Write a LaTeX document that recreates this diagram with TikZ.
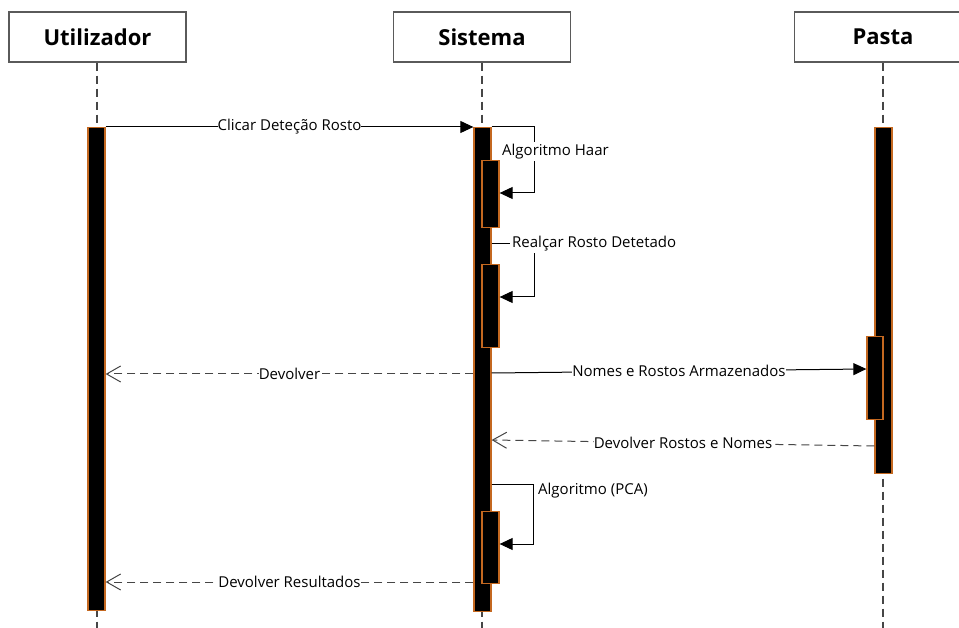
\documentclass[tikz,border=0pt]{standalone}
\usepackage{fontspec}
\setmainfont{Open Sans}
\usetikzlibrary{arrows.meta}
\definecolor{barorange}{RGB}{196,104,32}
\definecolor{linegray}{RGB}{70,70,70}
\definecolor{boxgray}{RGB}{90,90,90}
\begin{document}
\begin{tikzpicture}[x=1pt,y=-1pt,
  head/.style={draw=boxgray,line width=1.3pt,fill=white,minimum width=177pt,minimum height=50pt,
    inner sep=0pt,font=\fontsize{22}{26}\selectfont\bfseries},
  lifeline/.style={draw=linegray,line width=1.2pt,dash pattern=on 8pt off 5pt},
  actbar/.style={draw=barorange,line width=1.3pt,fill=black,minimum width=17pt,inner sep=0pt,anchor=north},
  call/.style={draw=black,line width=1pt,-{Triangle[length=13pt,width=12pt]}},
  reply/.style={draw=linegray,line width=1pt,dash pattern=on 8pt off 5pt,
    -{Straight Barb[length=14pt,width=16pt,line width=1pt]}},
  lbl/.style={fill=white,inner xsep=0pt,inner ysep=1pt,font=\fontsize{15}{17}\selectfont},
  selflbl/.style={lbl,anchor=west,inner sep=2pt}]
\clip (0,0) rectangle (959,628);
\fill[white] (0,0) rectangle (959,628);

% participants
\node[head] (hU) at (97.5,37) {Utilizador};
\node[head] (hS) at (482,37) {Sistema};
\node[head] (hP) at (883,37) {Pasta};

% lifeline ends
\coordinate (eU) at (97,628);
\coordinate (eS) at (482,628);
\coordinate (eP) at (883,628);
\draw[lifeline] (hU.south -| eU) -- (eU);
\draw[lifeline] (hS.south) -- (eS);
\draw[lifeline] (hP.south) -- (eP);

% activation bars
\node[actbar,minimum height=483pt] (uBar) at (96.5,127) {};
\node[actbar,minimum height=484pt] (sBar) at (482.5,127) {};
\node[actbar,minimum height=346pt] (pBar) at (883.5,127) {};
\node[actbar,minimum height=67pt] (sA) at (490.5,160) {};
\node[actbar,minimum height=83pt] (sB) at (490.5,264) {};
\node[actbar,minimum height=72pt] (sC) at (490.5,511) {};
\node[actbar,minimum height=83pt,minimum width=16pt] (pA) at (875,336) {};

% Clicar Deteção Rosto
\draw[call] (uBar.north east) -- node[lbl]{Clicar Deteção Rosto} (sBar.north west);

% Algoritmo Haar (self call)
\coordinate (h1) at (534,127);
\coordinate (h2) at (534,193);
\draw[call] (sBar.north east) -- (h1) -- (h2) -- (sA.east |- h2);
\node[selflbl] (lHaar) at (500,152) {Algoritmo Haar};

% Realçar Rosto Detetado (self call)
\coordinate (r0) at (sBar.east |- 0,244);
\coordinate (r1) at (534,244);
\coordinate (r2) at (534,297);
\draw[call] (r0) -- (r1) -- (r2) -- (sB.east |- r2);
\node[selflbl] (lReal) at (510,244) {Realçar Rosto Detetado};

% Nomes e Rostos Armazenados
\coordinate (n0) at (sBar.east |- 0,373);
\coordinate (n1) at (pA.west |- 0,369);
\draw[call] (n0) -- node[lbl]{Nomes e Rostos Armazenados} (n1);

% Devolver
\coordinate (d0) at (sBar.west |- 0,374);
\coordinate (d1) at (uBar.east |- 0,374);
\draw[reply] (d0) -- node[lbl]{Devolver} (d1);

% Devolver Rostos e Nomes
\coordinate (v0) at (pBar.west |- 0,446);
\coordinate (v1) at (sBar.east |- 0,440);
\draw[reply] (v0) -- node[lbl]{Devolver Rostos e Nomes} (v1);

% Algoritmo (PCA) (self call)
\coordinate (p0) at (sBar.east |- 0,484);
\coordinate (p1) at (533,484);
\coordinate (p2) at (533,544);
\draw[call] (p0) -- (p1) -- (p2) -- (sC.east |- p2);
\node[selflbl,fill=none] (lPCA) at (536,491) {Algoritmo (PCA)};

% Devolver Resultados
\coordinate (w0) at (sBar.west |- 0,582);
\coordinate (w1) at (uBar.east |- 0,582);
\draw[reply] (w0) -- node[lbl]{Devolver Resultados} (w1);
\end{tikzpicture}
\end{document}
